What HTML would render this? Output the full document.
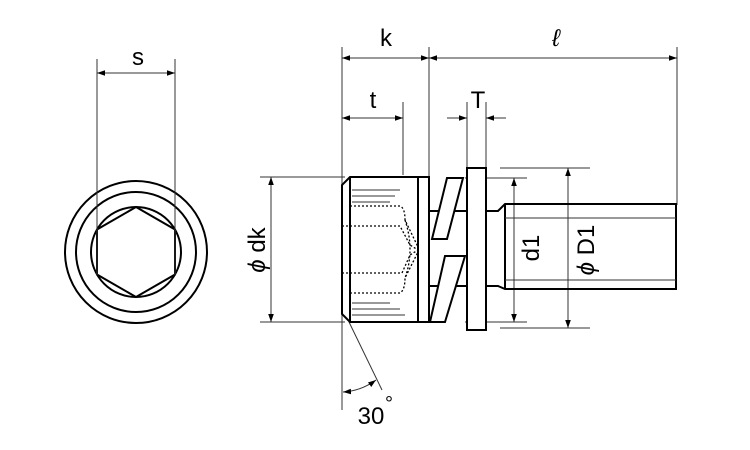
<!DOCTYPE html>
<html><head><meta charset="utf-8"><style>
html,body{margin:0;padding:0;background:#fff;width:750px;height:450px;overflow:hidden}
svg{display:block}
text{font-family:"Liberation Sans",sans-serif;fill:#000}
</style></head><body>
<svg width="750" height="450" viewBox="0 0 750 450" xmlns="http://www.w3.org/2000/svg">
<defs>
<marker id="a" viewBox="0 0 10 10" refX="10" refY="5" markerWidth="8" markerHeight="8" orient="auto-start-reverse" markerUnits="userSpaceOnUse"><path d="M0,1.5 L10,5 L0,8.5 z" fill="#000"/></marker>
</defs>
<g fill="none" stroke="#000" stroke-width="2">
<circle cx="136" cy="252" r="71"/>
<circle cx="136" cy="252" r="60"/>
<circle cx="136" cy="252" r="45"/>
<polygon points="136,207 175,229.5 175,274.5 136,297 97,274.5 97,229.5"/>
</g>
<g stroke="#333" stroke-width="1" fill="none">
<line x1="97" y1="59" x2="97" y2="275"/>
<line x1="175" y1="59" x2="175" y2="275"/>
<line x1="97" y1="73" x2="175" y2="73" marker-start="url(#a)" marker-end="url(#a)"/>
</g>
<text x="138" y="65" font-size="24" text-anchor="middle">s</text>

<g stroke="#333" stroke-width="1" fill="none">
<line x1="342" y1="47" x2="342" y2="410"/>
<line x1="429" y1="47" x2="429" y2="178"/>
<line x1="677" y1="47" x2="677" y2="205"/>
<line x1="342" y1="58" x2="429" y2="58" marker-start="url(#a)" marker-end="url(#a)"/>
<line x1="429" y1="58" x2="677" y2="58" marker-start="url(#a)" marker-end="url(#a)"/>
<line x1="403" y1="102" x2="403" y2="175"/>
<line x1="342" y1="118" x2="403" y2="118" marker-start="url(#a)" marker-end="url(#a)"/>
<line x1="467" y1="102" x2="467" y2="168"/>
<line x1="486" y1="102" x2="486" y2="168"/>
<line x1="447" y1="118" x2="467" y2="118" marker-end="url(#a)"/>
<line x1="506" y1="118" x2="486" y2="118" marker-end="url(#a)"/>
<line x1="260" y1="177" x2="345" y2="177"/>
<line x1="260" y1="322" x2="345" y2="322"/>
<line x1="271" y1="177" x2="271" y2="322" marker-start="url(#a)" marker-end="url(#a)"/>
<line x1="465" y1="178" x2="527" y2="178"/>
<line x1="465" y1="322" x2="527" y2="322"/>
<line x1="514" y1="178" x2="514" y2="322" marker-start="url(#a)" marker-end="url(#a)"/>
<line x1="500" y1="168" x2="590" y2="168"/>
<line x1="500" y1="328" x2="590" y2="328"/>
<line x1="568" y1="168" x2="568" y2="328" marker-start="url(#a)" marker-end="url(#a)"/>
<line x1="349" y1="322" x2="382" y2="390"/>
<path d="M343,392 A62,62 0 0 0 376,380" marker-start="url(#a)" marker-end="url(#a)"/>
</g>
<text x="386" y="46" font-size="24" text-anchor="middle">k</text>
<text x="556" y="46" font-size="24" text-anchor="middle" font-style="italic">ℓ</text>
<text x="373" y="108" font-size="24" text-anchor="middle">t</text>
<text x="478" y="108" font-size="24" text-anchor="middle">T</text>
<text x="371" y="424" font-size="24" text-anchor="middle">30</text>
<text x="389" y="410" font-size="20" text-anchor="middle">°</text>
<text transform="translate(265,250) rotate(-90)" font-size="24" text-anchor="middle"><tspan font-style="italic">ϕ</tspan> dk</text>
<text transform="translate(539,248) rotate(-90)" font-size="24" text-anchor="middle">d1</text>
<text transform="translate(594,250) rotate(-90)" font-size="24" text-anchor="middle"><tspan font-style="italic">ϕ</tspan> D1</text>

<g fill="none" stroke="#000" stroke-width="2">
<path d="M350,177 L429,177 L429,322 L350,322 L342,314 L342,185 Z"/>
<line x1="350" y1="177" x2="350" y2="322"/>
<line x1="418" y1="177" x2="418" y2="322"/>
</g>
<g stroke="#333" stroke-width="1" fill="none">
<line x1="352" y1="190" x2="400" y2="190"/>
<line x1="352" y1="196" x2="395" y2="196"/>
<line x1="352" y1="202" x2="390" y2="202"/>
<line x1="352" y1="303" x2="390" y2="303"/>
<line x1="352" y1="309" x2="400" y2="309"/>
<line x1="352" y1="315" x2="405" y2="315"/>
</g>
<g stroke="#000" stroke-width="1.3" fill="none" stroke-dasharray="2,2">
<path d="M350,206 L400,206 Q405,208 405,220 L418,247"/>
<path d="M342,226 L400,226 L410,245 L418,250"/>
<path d="M342,273 L402,273 L410,255 L418,250"/>
<path d="M350,293 L400,293 Q405,290 405,278 L418,252"/>
<path d="M405,220 Q415,250 405,278"/>
</g>
<g fill="none" stroke="#000" stroke-width="2">
<line x1="429" y1="211" x2="467" y2="211"/>
<line x1="429" y1="286" x2="467" y2="286"/>
<polygon points="447,178 463,178 447,239 432,239" fill="#fff"/>
<polygon points="445,256 465,256 445,322 430,322" fill="#fff"/>
<rect x="467" y="168" width="19" height="162" fill="#fff"/>
<path d="M486,211 L498,211 L505,204 L676,204 L676,289 L505,289 L498,286 L486,286"/>
<line x1="505" y1="204" x2="505" y2="289"/>
</g>
<g stroke="#333" stroke-width="1">
<line x1="505" y1="218" x2="676" y2="218"/>
<line x1="505" y1="280" x2="676" y2="280"/>
</g>
</svg>
</body></html>
